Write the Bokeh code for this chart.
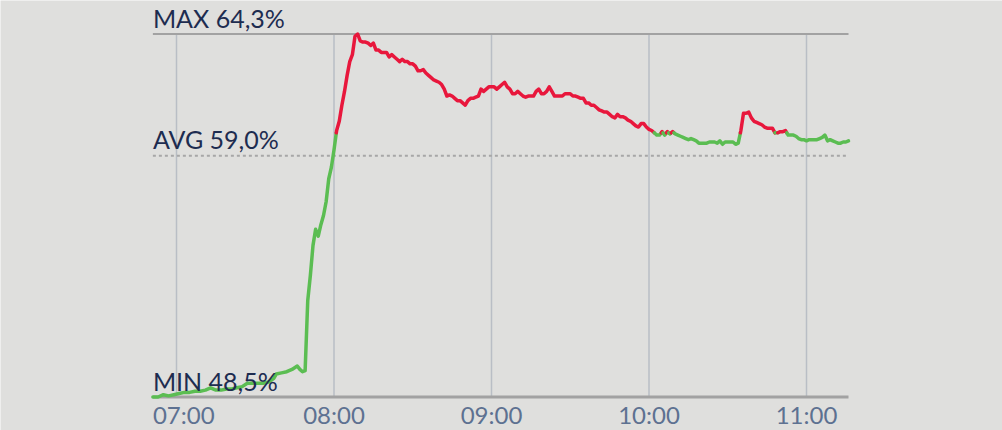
import numpy as np
from bokeh.plotting import figure
from bokeh.models import Range1d
from bokeh.embed import file_html
from bokeh.resources import INLINE
from bokeh.core.properties import value

# ---------------- data ----------------
times = [
    "06:51", "06:53", "06:55", "06:57", "06:59", "07:01", "07:03", "07:05", "07:07", "07:09",
    "07:11", "07:13", "07:15", "07:17", "07:19", "07:21", "07:23", "07:25", "07:27", "07:29",
    "07:31", "07:33", "07:35", "07:37", "07:38", "07:40", "07:42", "07:44", "07:46", "07:47",
    "07:48", "07:49", "07:50", "07:51", "07:52", "07:53", "07:54", "07:55", "07:56", "07:57",
    "07:58", "07:59",
    "08:00", "08:01", "08:02", "08:03", "08:04", "08:05", "08:06", "08:07", "08:08", "08:09",
    "08:10", "08:11", "08:12", "08:13", "08:14", "08:15", "08:16", "08:17", "08:18", "08:19",
    "08:20", "08:21", "08:22", "08:23", "08:24", "08:25", "08:26", "08:27", "08:28", "08:29",
    "08:30", "08:31", "08:32", "08:33", "08:34", "08:35", "08:36", "08:37", "08:38", "08:39",
    "08:40", "08:41", "08:42", "08:43", "08:44", "08:45", "08:46", "08:47", "08:48", "08:49",
    "08:50", "08:51", "08:52", "08:53", "08:54", "08:55", "08:56", "08:57", "08:58", "08:59",
    "09:00", "09:01", "09:02", "09:03", "09:04", "09:05", "09:06", "09:07", "09:08", "09:09",
    "09:10", "09:11", "09:12", "09:13", "09:14", "09:15", "09:16", "09:17", "09:18", "09:19",
    "09:20", "09:21", "09:22", "09:23", "09:24", "09:25", "09:26", "09:27", "09:28", "09:29",
    "09:30", "09:31", "09:32", "09:33", "09:34", "09:35", "09:36", "09:37", "09:38", "09:39",
    "09:40", "09:41", "09:42", "09:43", "09:44", "09:45", "09:46", "09:47", "09:48", "09:49",
    "09:50", "09:51", "09:52", "09:53", "09:54", "09:55", "09:56", "09:57", "09:58", "09:59",
    "10:00", "10:01", "10:02", "10:03", "10:04", "10:05", "10:06", "10:07", "10:08", "10:09",
    "10:10", "10:11", "10:12", "10:13", "10:14", "10:15", "10:16", "10:17", "10:18", "10:19",
    "10:20", "10:21", "10:22", "10:23", "10:24", "10:25", "10:26", "10:27", "10:28", "10:29",
    "10:30", "10:31", "10:32", "10:33", "10:34", "10:35", "10:36", "10:37", "10:38", "10:39",
    "10:40", "10:41", "10:42", "10:43", "10:44", "10:45", "10:46", "10:47", "10:48", "10:49",
    "10:50", "10:51", "10:52", "10:53", "10:54", "10:55", "10:56", "10:57", "10:58", "10:59",
    "11:00", "11:01", "11:02", "11:03", "11:04", "11:05", "11:06", "11:07", "11:08", "11:09",
    "11:10", "11:11", "11:12", "11:13", "11:14", "11:15", "11:16",
]
values = [
    48.5, 48.5, 48.6, 48.55, 48.6, 48.65, 48.7, 48.7, 48.75, 48.75,
    48.8, 48.9, 48.8, 48.8, 48.85, 48.85, 48.9, 48.95, 49.1, 49.1,
    49.1, 49.1, 49.15, 49.3, 49.5, 49.55, 49.6, 49.7, 49.85, 49.7,
    49.6, 49.65, 52.7, 53.8, 55.1, 55.8, 55.5, 56.0, 56.4, 57.0,
    58.0, 58.5,
    59.25, 60.1, 60.5, 61.2, 61.8, 62.5, 63.1, 63.4, 64.2, 64.3,
    64.0, 63.95, 63.95, 63.9, 63.8, 63.9, 63.6, 63.6, 63.5, 63.5,
    63.5, 63.3, 63.4, 63.3, 63.2, 63.1, 63.2, 63.1, 63.1, 63.0,
    63.0, 62.9, 62.7, 62.7, 62.75, 62.6, 62.5, 62.4, 62.3, 62.25,
    62.2, 62.1, 61.9, 61.6, 61.65, 61.6, 61.5, 61.4, 61.4, 61.3,
    61.2, 61.4, 61.5, 61.5, 61.55, 61.6, 61.9, 61.8, 61.9, 62.0,
    62.0, 62.0, 61.9, 62.0, 62.1, 62.2, 62.0, 61.9, 61.7, 61.7,
    61.8, 61.7, 61.6, 61.55, 61.6, 61.6, 61.6, 61.8, 61.9, 61.7,
    61.7, 61.8, 62.0, 61.8, 61.6, 61.6, 61.6, 61.6, 61.7, 61.7,
    61.7, 61.6, 61.6, 61.55, 61.5, 61.5, 61.3, 61.3, 61.2, 61.2,
    61.1, 61.0, 60.95, 60.9, 60.9, 60.8, 60.7, 60.65, 60.8, 60.7,
    60.7, 60.65, 60.55, 60.5, 60.4, 60.3, 60.25, 60.4, 60.4, 60.25,
    60.15, 60.1, 60.0, 59.9, 59.9, 60.05, 59.9, 60.05, 59.95, 60.05,
    59.95, 59.9, 59.85, 59.8, 59.75, 59.7, 59.75, 59.7, 59.65, 59.55,
    59.55, 59.55, 59.55, 59.6, 59.6, 59.6, 59.55, 59.65, 59.5, 59.6,
    59.6, 59.6, 59.6, 59.5, 59.55, 60.1, 60.85, 60.85, 60.9, 60.65,
    60.5, 60.45, 60.4, 60.35, 60.25, 60.2, 60.2, 60.2, 60.0, 60.0,
    60.05, 60.05, 60.1, 59.9, 59.9, 59.9, 59.85, 59.75, 59.7, 59.7,
    59.65, 59.7, 59.7, 59.7, 59.7, 59.75, 59.8, 59.9, 59.65, 59.7,
    59.65, 59.6, 59.55, 59.55, 59.6, 59.6, 59.65,
]
tick_labels = ["07:00", "08:00", "09:00", "10:00", "11:00"]
max_val, avg_val, min_val = 64.3, 59.0, 48.5
max_label, avg_label, min_label = "MAX 64,3%", "AVG 59,0%", "MIN 48,5%"
threshold = 60.0

# ---------------- styling ----------------
BG = "#dfdfdd"
RED = "#e8173c"
GREEN = "#5bbd52"
NAVY = "#1d2c50"
SLATE = "#5d7191"
FONT = "Lato"

W, H = 1002, 430
PX_PER_MIN = 2.625
ORIGIN_PX = 176          # pixel column of 07:00
TOP_PX, BOT_PX = 33.5, 396.5  # pixel rows of max and min lines
k = (max_val - min_val) / (BOT_PX - TOP_PX)   # value units per pixel


def to_min(t):
    h, m = map(int, t.split(":"))
    return (h - 7) * 60 + m


x = np.array([to_min(t) for t in times], dtype=float)
y = np.array(values, dtype=float)
x_left, x_right = x.min(), x.max()

p = figure(width=W, height=H, output_backend="svg", toolbar_location=None,
           x_axis_type=None, y_axis_type=None, min_border=0,
           background_fill_color=BG, border_fill_color=BG, outline_line_color=None)
p.x_range = Range1d(-ORIGIN_PX / PX_PER_MIN, (W - ORIGIN_PX) / PX_PER_MIN)
p.y_range = Range1d(min_val - (H - BOT_PX) * k, max_val + TOP_PX * k)
p.grid.visible = False

# vertical hour grid lines
hx = [to_min(t) for t in tick_labels]
p.segment(x0=hx, y0=[min_val] * len(hx), x1=hx, y1=[max_val] * len(hx),
          line_color="#b9bec5", line_width=1.5)

# max / avg / min lines
p.segment(x0=[x_left], y0=[max_val], x1=[x_right], y1=[max_val],
          line_color="#a2a2a2", line_width=2)
p.segment(x0=[x_left], y0=[avg_val], x1=[x_right], y1=[avg_val],
          line_color="#a7a7a7", line_width=2, line_dash="3 3")
p.segment(x0=[x_left], y0=[min_val], x1=[x_right], y1=[min_val],
          line_color="#a2a2a2", line_width=3)

# split the series into runs above / below threshold
xs, ys, cols = [], [], []
cx, cy = [x[0]], [y[0]]
above = y[0] > threshold
for i in range(1, len(x)):
    a = y[i] > threshold
    if a != above:
        t = (threshold - y[i - 1]) / (y[i] - y[i - 1])
        xc = x[i - 1] + t * (x[i] - x[i - 1])
        cx.append(xc); cy.append(threshold)
        xs.append(cx); ys.append(cy); cols.append(RED if above else GREEN)
        cx, cy = [xc], [threshold]
        above = a
    cx.append(x[i]); cy.append(y[i])
xs.append(cx); ys.append(cy); cols.append(RED if above else GREEN)
p.multi_line(xs=xs, ys=ys, line_color=cols, line_width=3.5,
             line_join="round", line_cap="round")


# labels (vertically centred on the capital letters)
def txt(xv, yv, s, color, size, align="left"):
    p.text(x=[xv], y=[yv], text=[s], text_font=value(FONT), text_font_size=size,
           text_color=color, text_align=align, text_baseline="middle")


txt(x_left, max_val + 16 * k, max_label, NAVY, "25px")
txt(x_left, avg_val + 17 * k, avg_label, NAVY, "25px")
txt(x_left, min_val + 16 * k, min_label, NAVY, "25px")

half_w = 30 / PX_PER_MIN
for lab, hv in zip(tick_labels, hx):
    if hv - half_w < x_left:
        txt(x_left, min_val - 17 * k, lab, SLATE, "24px", "left")
    else:
        txt(hv, min_val - 17 * k, lab, SLATE, "24px", "center")

html = file_html(p, INLINE)
html = html.replace("<body>", "<body style=\"background:%s;\">" % BG, 1)
open("out.html", "w").write(html)
